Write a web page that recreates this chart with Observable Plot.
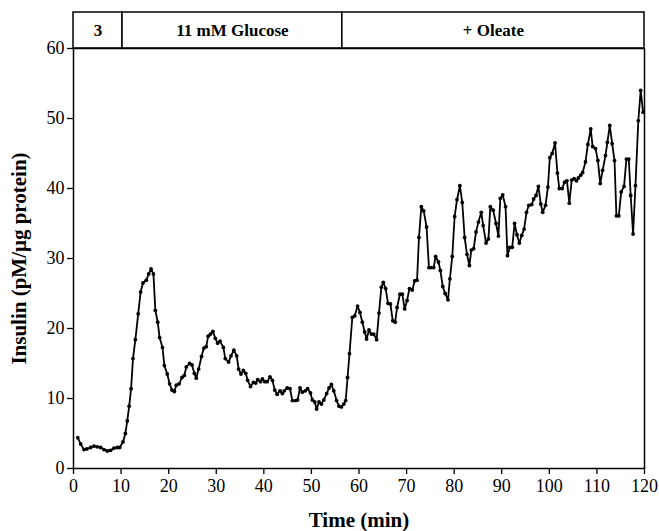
<!DOCTYPE html>
<html><head><meta charset="utf-8">
<script src="https://cdn.jsdelivr.net/npm/d3@7"></script>
<script src="https://cdn.jsdelivr.net/npm/@observablehq/plot@0.6"></script>
<style>html,body{margin:0;padding:0;background:#fff}</style>
</head><body><div id="chart"></div>
<script>
const time = [0.9,1.5,2.2,2.8,3.6,4.3,5.0,5.7,6.4,7.1,7.8,8.5,9.2,9.7,10.4,10.9,11.3,11.7,12.1,12.5,13.0,13.6,14.1,14.6,15.3,15.8,16.3,16.8,17.2,17.7,18.1,18.7,19.1,19.7,20.2,20.7,21.2,21.6,22.2,22.8,23.3,23.7,24.4,24.9,25.4,25.8,26.3,26.9,27.4,27.9,28.3,28.8,29.3,29.8,30.3,30.8,31.5,31.9,32.6,33.1,33.7,34.3,34.7,35.2,35.7,36.2,36.6,37.2,37.8,38.3,38.7,39.3,39.7,40.2,40.7,41.3,41.8,42.3,42.8,43.4,43.9,44.3,44.9,45.5,46.0,46.7,47.1,47.6,48.1,48.7,49.2,49.8,50.2,50.7,51.1,51.6,52.1,52.6,53.2,53.7,54.2,54.7,55.3,55.8,56.3,56.8,57.2,57.6,58.0,58.6,59.1,59.7,60.2,60.7,61.2,61.6,62.1,62.6,63.1,63.7,64.2,64.7,65.1,65.6,66.1,66.6,67.1,67.6,68.0,68.6,69.1,69.6,70.1,70.6,71.2,71.7,72.2,72.6,73.1,73.6,74.2,74.7,75.2,75.7,76.1,76.7,77.1,77.6,78.1,78.7,79.1,79.6,80.1,80.6,81.2,81.7,82.2,82.7,83.2,83.6,84.1,84.6,85.1,85.7,86.1,86.7,87.2,87.6,88.2,88.8,89.3,89.7,90.2,90.8,91.2,91.7,92.2,92.7,93.2,93.7,94.2,94.7,95.2,95.7,96.3,96.7,97.2,97.7,98.2,98.6,99.2,99.7,100.1,100.6,101.2,101.7,102.1,102.7,103.2,103.7,104.2,104.7,105.2,105.7,106.1,106.6,107.0,107.6,108.1,108.7,109.1,109.7,110.2,110.7,111.2,111.8,112.2,112.7,113.2,113.7,114.1,114.6,115.1,115.7,116.2,116.7,117.1,117.6,118.1,118.7,119.2,119.7];
const insulin = [4.4,3.5,2.7,2.8,3.0,3.2,3.1,3.0,2.7,2.5,2.6,2.9,3.0,3.0,3.8,5.0,6.8,8.9,11.4,15.7,18.4,22.1,25.2,26.5,26.9,27.8,28.5,27.8,22.6,20.9,18.7,17.3,14.7,13.5,12.1,11.2,11.0,11.9,12.1,13.0,13.3,14.5,15.0,14.8,13.6,12.9,14.2,16.0,17.2,17.4,18.9,19.2,19.6,18.6,17.9,18.2,17.3,15.7,15.2,16.1,16.9,16.1,14.2,13.5,14.0,13.6,12.6,11.7,12.3,12.2,12.7,12.4,12.8,12.4,12.4,13.1,12.6,11.2,10.6,11.1,10.7,11.1,11.5,11.4,9.7,9.7,9.8,11.5,10.9,11.1,11.4,10.8,9.8,9.5,8.5,9.5,9.2,9.8,10.7,11.5,12.0,11.1,9.7,8.9,8.8,9.2,9.7,13.0,16.4,21.6,21.8,23.2,22.3,20.9,19.5,18.5,19.8,19.2,19.2,18.4,22.2,25.9,26.6,25.7,23.6,23.5,21.1,20.9,23.0,24.9,24.9,22.8,24.0,25.7,25.5,26.8,26.9,33.0,37.4,36.8,34.5,28.7,28.7,28.7,30.3,29.5,28.3,26.0,25.0,24.1,27.1,30.3,36.0,38.4,40.4,38.0,33.0,30.6,29.0,31.2,31.4,33.8,35.2,36.6,34.7,32.2,32.8,37.4,36.9,35.0,33.2,38.6,39.1,37.4,30.4,31.6,31.6,35.0,33.4,32.2,33.3,34.2,36.6,37.6,37.7,38.5,39.0,40.3,37.8,36.6,37.6,40.2,44.4,45.0,46.5,42.2,40.0,40.0,40.9,41.1,37.9,41.2,41.4,41.1,41.5,41.9,42.3,43.8,46.3,48.5,46.0,45.7,44.0,40.7,42.6,44.7,46.6,49.0,46.4,44.0,36.1,36.1,39.5,40.3,44.2,44.2,39.0,33.5,40.4,49.7,54.0,50.9];

const phaseLabels = ["3", "11 mM Glucose", "+ Oleate"];
const phaseStart = [0, 10.3, 56.5];
const phaseEnd = [10.3, 56.5, 120];

const xTicks = [0,10,20,30,40,50,60,70,80,90,100,110,120];
const yTicks = [0,10,20,30,40,50,60];
const xTitle = "Time (min)";
const yTitle = "Insulin (pM/\u03bcg protein)";

const yMax = 60;
const headerTop = 65.14; // header band above the frame, in y units

const series = time.map((t, i) => ({t, v: insulin[i]}));
const phases = phaseLabels.map((label, i) => ({label, x1: phaseStart[i], x2: phaseEnd[i]}));

const chart = Plot.plot({
  width: 659,
  height: 531,
  marginLeft: 73,
  marginRight: 15,
  marginTop: 48,
  marginBottom: 63,
  x: {domain: [0, 120]},
  y: {domain: [0, yMax]},
  style: {fontFamily: "'Liberation Serif', 'Times New Roman', serif", fontSize: "18px", color: "black", background: "white"},
  marks: [
    Plot.rect(phases, {x1: "x1", x2: "x2", y1: () => yMax, y2: () => headerTop, fill: "white", stroke: "black", strokeWidth: 1.5}),
    Plot.text(phases, {x: d => (d.x1 + d.x2) / 2, y: () => (yMax + headerTop) / 2, text: "label", fontWeight: "bold", fontSize: 17, fill: "black"}),
    Plot.frame({stroke: "black", strokeWidth: 1.5}),
    Plot.axisX(xTicks, {tickSize: 6, tickPadding: 5, label: null, fontSize: 18, strokeWidth: 1.3}),
    Plot.axisY(yTicks, {tickSize: 6, tickPadding: 3, label: null, fontSize: 18, strokeWidth: 1.3}),
    Plot.text([xTitle], {frameAnchor: "bottom", lineAnchor: "middle", textAnchor: "middle", dy: 52, text: d => d, fontWeight: "bold", fontSize: 21, fill: "black"}),
    Plot.text([yTitle], {frameAnchor: "left", rotate: -90, textAnchor: "middle", lineAnchor: "middle", dx: -54, text: d => d, fontWeight: "bold", fontSize: 21, fill: "black"}),
    Plot.line(series, {x: "t", y: "v", stroke: "black", strokeWidth: 1.8}),
    Plot.dot(series, {x: "t", y: "v", r: 1.9, fill: "black", stroke: "none"})
  ]
});
document.getElementById("chart").appendChild(chart);
</script>
</body></html>
